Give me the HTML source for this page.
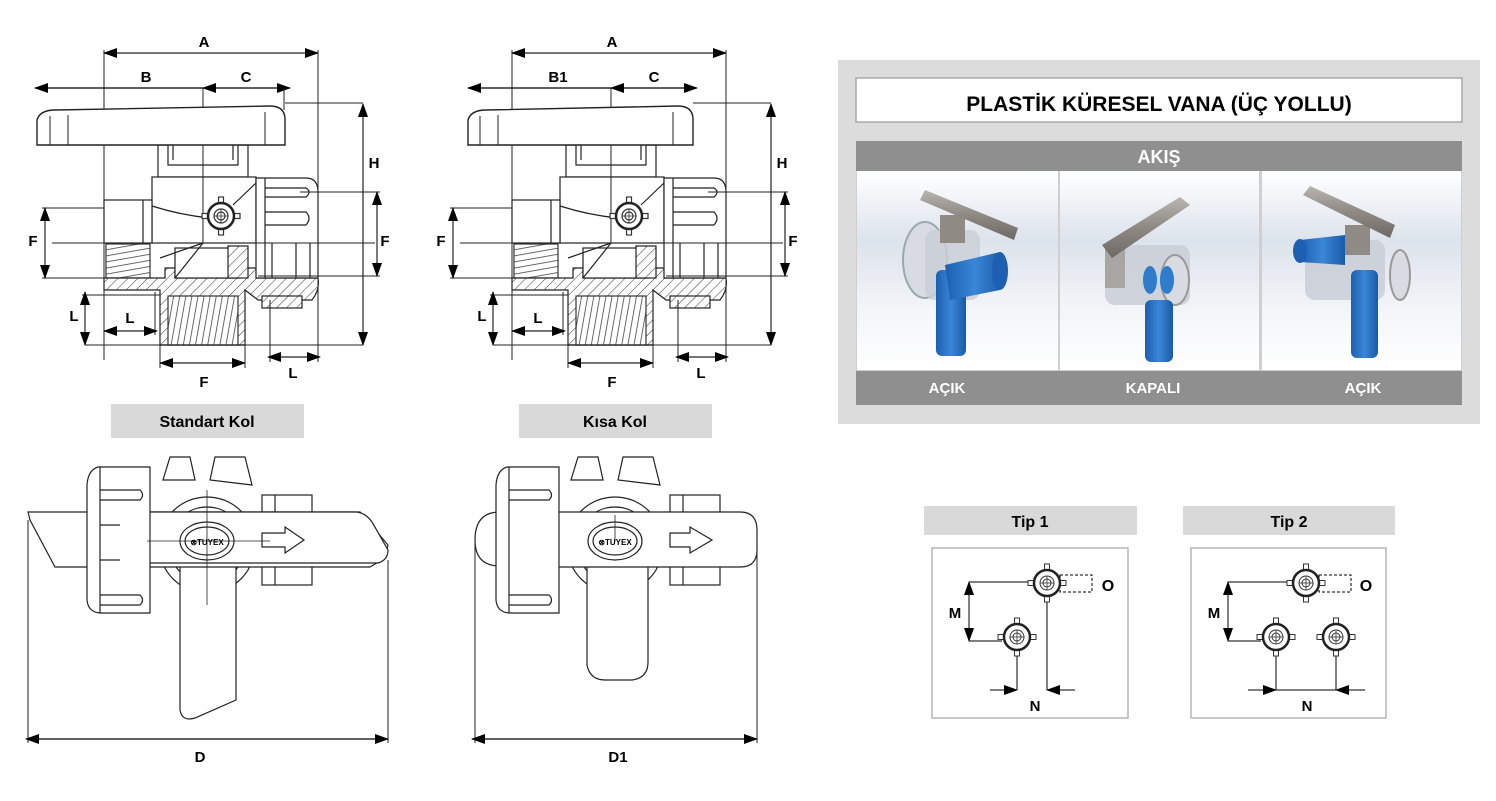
<!DOCTYPE html>
<html><head><meta charset="utf-8"><style>
html,body{margin:0;padding:0;background:#fff;}
svg{display:block;}
text{font-family:"Liberation Sans",Arial,sans-serif;font-weight:bold;}
</style></head><body>
<svg width="1496" height="801" viewBox="0 0 1496 801" xmlns="http://www.w3.org/2000/svg">
<defs>
<marker id="ae" markerWidth="14" markerHeight="10" refX="13" refY="5" orient="auto" markerUnits="userSpaceOnUse"><path d="M0,0 L14,5 L0,10 Z" fill="#000"/></marker>
<marker id="as" markerWidth="14" markerHeight="10" refX="1" refY="5" orient="auto" markerUnits="userSpaceOnUse"><path d="M14,0 L0,5 L14,10 Z" fill="#000"/></marker>
<pattern id="hatch" width="7" height="7" patternUnits="userSpaceOnUse" patternTransform="rotate(45)"><rect width="7" height="7" fill="#fff"/><line x1="0" y1="0" x2="0" y2="7" stroke="#333" stroke-width="1"/></pattern>
<pattern id="thr" width="6" height="6" patternUnits="userSpaceOnUse" patternTransform="rotate(80)"><rect width="6" height="6" fill="#fff"/><line x1="0" y1="0" x2="0" y2="6" stroke="#444" stroke-width="1.6"/></pattern>
<pattern id="thr2" width="6" height="6" patternUnits="userSpaceOnUse" patternTransform="rotate(10)"><rect width="6" height="6" fill="#fff"/><line x1="0" y1="0" x2="0" y2="6" stroke="#444" stroke-width="1.6"/></pattern>
<linearGradient id="bg" x1="0" y1="0" x2="0" y2="1"><stop offset="0" stop-color="#fff"/><stop offset="0.35" stop-color="#dde3ec"/><stop offset="0.7" stop-color="#f3f5f8"/><stop offset="1" stop-color="#fff"/></linearGradient>
<linearGradient id="met" x1="0" y1="0" x2="0" y2="1"><stop offset="0" stop-color="#b9b5b0"/><stop offset="0.5" stop-color="#8e8983"/><stop offset="1" stop-color="#6d6964"/></linearGradient>
<linearGradient id="blu" x1="0" y1="0" x2="1" y2="0"><stop offset="0" stop-color="#1d5fb0"/><stop offset="0.5" stop-color="#3a86d6"/><stop offset="1" stop-color="#1a5aa8"/></linearGradient>

<g id="knob">
 <rect x="-2.5" y="-19" width="5" height="8" fill="#fff" stroke="#333"/>
 <rect x="-2.5" y="11" width="5" height="8" fill="#fff" stroke="#333"/>
 <rect x="-19" y="-2.5" width="8" height="5" fill="#fff" stroke="#333"/>
 <rect x="11" y="-2.5" width="8" height="5" fill="#fff" stroke="#333"/>
 <circle r="13" fill="#fff" stroke="#222" stroke-width="2.5"/>
 <circle r="7" fill="none" stroke="#333"/>
 <circle r="4" fill="none" stroke="#333"/>
 <line x1="-7" y1="0" x2="7" y2="0" stroke="#333" stroke-width="0.8"/>
 <line x1="0" y1="-7" x2="0" y2="7" stroke="#333" stroke-width="0.8"/>
</g>

<!-- top valve body (without handle & B/C dims) -->
<g id="vbody" fill="none" stroke="#222" stroke-width="1.2">
 <!-- stem & loop -->
 <rect x="158" y="145" width="90" height="32" fill="#fff"/>
 <path d="M168,165 L168,135 Q168,126 178,126 L228,126 Q238,126 238,135 L238,165 Z" fill="#fff"/>
 <path d="M173,160 L173,140 Q173,133 180,133 L226,133 Q233,133 233,140 L233,160" />
 <!-- body -->
 <rect x="152" y="177" width="104" height="66" fill="#fff"/>
 <path d="M152,206 Q180,215 210,218"/>
 <path d="M233,205 L256,183"/>
 <!-- left port -->
 <rect x="104" y="200" width="48" height="43" fill="#fff"/>
 <line x1="143" y1="200" x2="143" y2="243"/>
 <rect x="106" y="244" width="44" height="34" fill="url(#thr)" stroke="#333"/>
 <!-- lower hatched body -->
 <path d="M104,278 L165,278 L165,268 L175,268 L175,278 L240,278 L240,268 L258,268 L258,278 L318,278 Q320,290 312,300 L258,300 L245,290 L245,345 L160,345 L160,290 L104,290 Z" fill="url(#hatch)"/>
 <rect x="175" y="248" width="58" height="30" fill="#fff"/>
 <rect x="168" y="296" width="70" height="49" fill="url(#thr2)" stroke="#333"/>
 <line x1="160" y1="345" x2="245" y2="345"/>
 <rect x="228" y="246" width="20" height="32" fill="url(#hatch)"/>
 <line x1="160" y1="258" x2="203" y2="243"/>
 <line x1="175" y1="278" x2="203" y2="243"/>
 <rect x="262" y="296" width="40" height="12" fill="url(#hatch)"/>
 <!-- right union nut -->
 <path d="M256,178 L306,178 Q318,178 318,192 L318,278 L256,278 Z" fill="#fff"/>
 <line x1="265" y1="178" x2="265" y2="278"/>
 <path d="M265,188 L306,188 Q312,192 306,197 L265,197"/>
 <path d="M265,212 L306,212 Q312,218 306,225 L265,225"/>
 <line x1="296" y1="243" x2="296" y2="278"/>
 <line x1="310" y1="243" x2="310" y2="278"/>
 <line x1="272" y1="243" x2="272" y2="278"/>
 <!-- centerlines -->
 <line x1="203" y1="88" x2="203" y2="243" stroke-width="1"/>
 <line x1="52" y1="243" x2="375" y2="243" stroke-width="1"/>
 <use href="#knob" x="221" y="216"/>
 <!-- dims -->
 <line x1="104" y1="50" x2="104" y2="360" stroke-width="1"/>
 <line x1="318" y1="50" x2="318" y2="362" stroke-width="1"/>
 <line x1="104" y1="53" x2="318" y2="53" marker-start="url(#as)" marker-end="url(#ae)"/>
 <line x1="285" y1="103" x2="363" y2="103" stroke-width="1"/>
 <line x1="363" y1="104" x2="363" y2="345" marker-start="url(#as)" marker-end="url(#ae)"/>
 <line x1="300" y1="192" x2="380" y2="192" stroke-width="1"/>
 <line x1="258" y1="276" x2="380" y2="276" stroke-width="1"/>
 <line x1="377" y1="192" x2="377" y2="276" marker-start="url(#as)" marker-end="url(#ae)"/>
 <line x1="42" y1="208" x2="104" y2="208" stroke-width="1"/>
 <line x1="42" y1="278" x2="104" y2="278" stroke-width="1"/>
 <line x1="45" y1="208" x2="45" y2="278" marker-start="url(#as)" marker-end="url(#ae)"/>
 <line x1="82" y1="295" x2="160" y2="295" stroke-width="1"/>
 <line x1="85" y1="292" x2="85" y2="345" marker-start="url(#as)" marker-end="url(#ae)"/>
 <line x1="85" y1="345" x2="363" y2="345" stroke-width="1"/>
 <line x1="155" y1="292" x2="155" y2="335" stroke-width="1"/>
 <line x1="104" y1="331" x2="157" y2="331" marker-start="url(#as)" marker-end="url(#ae)"/>
 <line x1="160" y1="345" x2="160" y2="368" stroke-width="1"/>
 <line x1="245" y1="345" x2="245" y2="368" stroke-width="1"/>
 <line x1="160" y1="363" x2="245" y2="363" marker-start="url(#as)" marker-end="url(#ae)"/>
 <line x1="270" y1="300" x2="270" y2="362" stroke-width="1"/>
 <line x1="268" y1="357" x2="320" y2="357" marker-start="url(#as)" marker-end="url(#ae)"/>
</g>
</defs>

<!-- ===== Drawing 1 ===== -->
<use href="#vbody"/>
<path d="M37,145 L37,120 Q40,110 55,110 L270,106 Q284,106 285,118 L285,145 Z" fill="#fff" stroke="#222" stroke-width="1.4"/>
<line x1="50" y1="116" x2="50" y2="145" stroke="#222"/>
<line x1="68" y1="115" x2="68" y2="145" stroke="#222"/>
<line x1="265" y1="112" x2="265" y2="145" stroke="#222"/>
<line x1="35" y1="88" x2="290" y2="88" stroke="#000" stroke-width="1.2" marker-start="url(#as)" marker-end="url(#ae)"/>
<line x1="203" y1="88" x2="215" y2="88" stroke="#000" marker-start="url(#as)"/>
<line x1="284" y1="88" x2="284" y2="110" stroke="#222"/>
<text x="204" y="47" font-size="15" text-anchor="middle">A</text>
<text x="146" y="82" font-size="15" text-anchor="middle">B</text>
<text x="246" y="82" font-size="15" text-anchor="middle">C</text>
<text x="374" y="168" font-size="15" text-anchor="middle">H</text>
<text x="385" y="246" font-size="15" text-anchor="middle">F</text>
<text x="33" y="246" font-size="15" text-anchor="middle">F</text>
<text x="74" y="321" font-size="15" text-anchor="middle">L</text>
<text x="130" y="323" font-size="15" text-anchor="middle">L</text>
<text x="204" y="387" font-size="15" text-anchor="middle">F</text>
<text x="293" y="378" font-size="15" text-anchor="middle">L</text>

<!-- ===== Drawing 2 ===== -->
<g transform="translate(408,0)"><use href="#vbody"/></g>
<path d="M468,145 L468,120 Q471,110 486,110 L678,106 Q692,106 693,118 L693,145 Z" fill="#fff" stroke="#222" stroke-width="1.4"/>
<line x1="480" y1="116" x2="480" y2="145" stroke="#222"/>
<line x1="498" y1="115" x2="498" y2="145" stroke="#222"/>
<line x1="673" y1="112" x2="673" y2="145" stroke="#222"/>
<line x1="468" y1="88" x2="697" y2="88" stroke="#000" stroke-width="1.2" marker-start="url(#as)" marker-end="url(#ae)"/>
<line x1="611" y1="88" x2="623" y2="88" stroke="#000" marker-start="url(#as)"/>
<text x="612" y="47" font-size="15" text-anchor="middle">A</text>
<text x="558" y="82" font-size="15" text-anchor="middle">B1</text>
<text x="654" y="82" font-size="15" text-anchor="middle">C</text>
<text x="782" y="168" font-size="15" text-anchor="middle">H</text>
<text x="793" y="246" font-size="15" text-anchor="middle">F</text>
<text x="441" y="246" font-size="15" text-anchor="middle">F</text>
<text x="482" y="321" font-size="15" text-anchor="middle">L</text>
<text x="538" y="323" font-size="15" text-anchor="middle">L</text>
<text x="612" y="387" font-size="15" text-anchor="middle">F</text>
<text x="701" y="378" font-size="15" text-anchor="middle">L</text>

<!-- labels -->
<rect x="111" y="404" width="193" height="34" fill="#d9d9d9"/>
<text x="207" y="427" font-size="16" text-anchor="middle">Standart Kol</text>
<rect x="519" y="404" width="193" height="34" fill="#d9d9d9"/>
<text x="615" y="427" font-size="16" text-anchor="middle">Kısa Kol</text>

<!-- ===== Bottom drawing 1 ===== -->
<g fill="#fff" stroke="#222" stroke-width="1.2">
 <path d="M163,480 L170,457 L190,457 L195,480 Z"/>
 <path d="M210,480 L215,457 L245,457 L252,485 Z"/>
 <rect x="262" y="495" width="50" height="90"/>
 <line x1="275" y1="495" x2="275" y2="585"/>
 <circle cx="207" cy="545" r="48"/>
 <circle cx="207" cy="545" r="38"/>
 <path d="M180,565 L180,710 Q182,722 195,718 L236,700 L236,565 Z"/>
 <path d="M28,512 L30,520 L55,567 L370,567 L385,558 L388,545 L360,512 Z"/>
 <path d="M140,512 L355,512 Q365,512 372,522 L388,550 Q388,560 378,563 L140,563 Q120,560 120,537 Q120,512 140,512 Z"/>
 <path d="M98,467 Q88,470 87,485 L87,600 Q88,612 100,613 L150,613 L150,467 Z"/>
 <line x1="100" y1="467" x2="100" y2="613"/>
 <path d="M100,490 L140,490 Q145,495 140,500 L100,500" fill="none"/>
 <path d="M100,525 L120,525" fill="none"/>
 <path d="M100,560 L120,560" fill="none"/>
 <path d="M100,595 L140,595 Q145,600 140,605 L100,605" fill="none"/>
 <ellipse cx="207" cy="541" rx="27" ry="19"/>
 <ellipse cx="207" cy="541" rx="22" ry="14"/>
 <path d="M262,533 L285,533 L285,527 L304,540 L285,553 L285,547 L262,547 Z"/>
 <line x1="147" y1="541" x2="270" y2="541" stroke-width="0.8"/>
 <line x1="207" y1="490" x2="207" y2="605" stroke-width="0.8"/>
</g>
<text x="207" y="545" font-size="8" text-anchor="middle">⊗TUYEX</text>
<line x1="28" y1="520" x2="28" y2="743" stroke="#222"/>
<line x1="388" y1="560" x2="388" y2="743" stroke="#222"/>
<line x1="26" y1="739" x2="388" y2="739" stroke="#000" stroke-width="1.2" marker-start="url(#as)" marker-end="url(#ae)"/>
<text x="200" y="762" font-size="15" text-anchor="middle">D</text>

<!-- ===== Bottom drawing 2 ===== -->
<g fill="#fff" stroke="#222" stroke-width="1.2">
 <path d="M571,480 L578,457 L598,457 L603,480 Z"/>
 <path d="M618,480 L623,457 L653,457 L660,485 Z"/>
 <rect x="670" y="495" width="50" height="90"/>
 <line x1="683" y1="495" x2="683" y2="585"/>
 <circle cx="615" cy="545" r="48"/>
 <circle cx="615" cy="545" r="38"/>
 <path d="M587,565 L587,665 Q590,680 605,680 L632,680 Q648,678 648,662 L648,565 Z"/>
 <path d="M500,512 Q475,512 475,540 Q475,566 500,566 L540,566 L540,512 Z"/>
 <path d="M548,512 L740,512 Q757,512 757,530 L757,550 Q757,567 740,567 L548,567 Q530,565 530,540 Q530,512 548,512 Z"/>
 <path d="M507,467 Q497,470 496,485 L496,600 Q497,612 509,613 L559,613 L559,467 Z"/>
 <line x1="509" y1="467" x2="509" y2="613"/>
 <path d="M509,490 L549,490 Q554,495 549,500 L509,500" fill="none"/>
 <path d="M509,595 L549,595 Q554,600 549,605 L509,605" fill="none"/>
 <ellipse cx="615" cy="541" rx="27" ry="19"/>
 <ellipse cx="615" cy="541" rx="22" ry="14"/>
 <path d="M670,533 L690,533 L690,527 L712,540 L690,553 L690,547 L670,547 Z"/>
 <line x1="615" y1="515" x2="615" y2="541" stroke-width="0.8"/>
</g>
<text x="615" y="545" font-size="8" text-anchor="middle">⊗TUYEX</text>
<line x1="475" y1="540" x2="475" y2="743" stroke="#222"/>
<line x1="757" y1="540" x2="757" y2="743" stroke="#222"/>
<line x1="472" y1="739" x2="757" y2="739" stroke="#000" stroke-width="1.2" marker-start="url(#as)" marker-end="url(#ae)"/>
<text x="618" y="762" font-size="15" text-anchor="middle">D1</text>

<!-- ===== Right panel ===== -->
<rect x="838" y="60" width="642" height="364" fill="#dcdcdc"/>
<rect x="856" y="78" width="606" height="44" fill="#fff" stroke="#a8a8a8" stroke-width="1.5"/>
<text x="1159" y="111" font-size="21" text-anchor="middle">PLASTİK KÜRESEL VANA (ÜÇ YOLLU)</text>
<rect x="856" y="141" width="606" height="30" fill="#8f8f8f"/>
<text x="1159" y="163" font-size="18" fill="#fff" text-anchor="middle">AKIŞ</text>
<rect x="856" y="171" width="606" height="200" fill="#cfcfcf"/>
<rect x="857" y="171" width="201" height="199" fill="url(#bg)"/>
<rect x="1060" y="171" width="199" height="199" fill="url(#bg)"/>
<rect x="1262" y="171" width="199" height="199" fill="url(#bg)"/>
<rect x="856" y="371" width="606" height="34" fill="#8f8f8f"/>
<text x="947" y="393" font-size="15" fill="#fff" text-anchor="middle">AÇIK</text>
<text x="1153" y="393" font-size="15" fill="#fff" text-anchor="middle">KAPALI</text>
<text x="1363" y="393" font-size="15" fill="#fff" text-anchor="middle">AÇIK</text>

<!-- photo 1 -->
<g>
 <ellipse cx="925" cy="260" rx="22" ry="38" fill="#d8dce2" stroke="#9aa" stroke-width="2"/>
 <rect x="925" y="230" width="55" height="70" rx="10" fill="#c9ced6" opacity="0.8"/>
 <rect x="936" y="270" width="30" height="86" rx="6" fill="url(#blu)"/>
 <path d="M945,265 L1000,252 Q1008,265 1000,290 L950,300 Z" fill="url(#blu)"/>
 <ellipse cx="1000" cy="271" rx="8" ry="19" fill="#1d5fb0"/>
 <rect x="940" y="215" width="25" height="28" fill="#8f8a84"/>
 <path d="M920,200 L925,190 L1018,228 L1014,240 Z" fill="url(#met)"/>
</g>
<!-- photo 2 -->
<g>
 <rect x="1105" y="245" width="85" height="60" rx="10" fill="#c9ced6" opacity="0.85"/>
 <ellipse cx="1175" cy="280" rx="14" ry="25" fill="#d8dce2" stroke="#999" stroke-width="2"/>
 <rect x="1105" y="248" width="20" height="40" fill="#a9a5a0"/>
 <rect x="1145" y="300" width="28" height="62" rx="6" fill="url(#blu)"/>
 <ellipse cx="1150" cy="280" rx="7" ry="14" fill="#2f7ccc"/>
 <ellipse cx="1167" cy="280" rx="7" ry="14" fill="#2f7ccc"/>
 <path d="M1102,245 L1180,197 L1190,205 L1112,258 Z" fill="url(#met)"/>
</g>
<!-- photo 3 -->
<g>
 <rect x="1305" y="240" width="80" height="60" rx="10" fill="#c9ced6" opacity="0.85"/>
 <ellipse cx="1400" cy="275" rx="10" ry="25" fill="#d8dce2" stroke="#999" stroke-width="2"/>
 <path d="M1300,240 L1345,235 L1345,265 L1300,262 Z" fill="url(#blu)"/>
 <ellipse cx="1300" cy="251" rx="7" ry="12" fill="#1d5fb0"/>
 <rect x="1351" y="270" width="27" height="88" rx="6" fill="url(#blu)"/>
 <rect x="1345" y="225" width="25" height="30" fill="#8f8a84"/>
 <path d="M1303,195 L1310,186 L1395,225 L1390,238 Z" fill="url(#met)"/>
</g>

<!-- ===== Tip boxes ===== -->
<rect x="924" y="506" width="213" height="29" fill="#d9d9d9"/>
<text x="1030" y="527" font-size="16" text-anchor="middle">Tip 1</text>
<rect x="1183" y="506" width="212" height="29" fill="#d9d9d9"/>
<text x="1289" y="527" font-size="16" text-anchor="middle">Tip 2</text>
<rect x="932" y="548" width="196" height="170" fill="#fff" stroke="#b5b5b5" stroke-width="1.5"/>
<rect x="1191" y="548" width="195" height="170" fill="#fff" stroke="#b5b5b5" stroke-width="1.5"/>

<g stroke="#000" stroke-width="1" fill="none">
 <rect x="1060" y="575" width="32" height="17" stroke-dasharray="3,2"/>
 <line x1="969" y1="582" x2="1032" y2="582"/>
 <line x1="969" y1="641" x2="1002" y2="641"/>
 <line x1="969" y1="582" x2="969" y2="641" marker-start="url(#as)" marker-end="url(#ae)"/>
 <line x1="1017" y1="650" x2="1017" y2="690"/>
 <line x1="1047" y1="596" x2="1047" y2="690"/>
 <line x1="990" y1="690" x2="1017" y2="690" marker-end="url(#ae)"/>
 <line x1="1075" y1="690" x2="1047" y2="690" marker-end="url(#ae)"/>

 <rect x="1319" y="575" width="32" height="17" stroke-dasharray="3,2"/>
 <line x1="1228" y1="582" x2="1291" y2="582"/>
 <line x1="1228" y1="641" x2="1261" y2="641"/>
 <line x1="1228" y1="582" x2="1228" y2="641" marker-start="url(#as)" marker-end="url(#ae)"/>
 <line x1="1276" y1="650" x2="1276" y2="690"/>
 <line x1="1336" y1="650" x2="1336" y2="690"/>
 <line x1="1248" y1="690" x2="1276" y2="690" marker-end="url(#ae)"/>
 <line x1="1365" y1="690" x2="1336" y2="690" marker-end="url(#ae)"/>
 <line x1="1276" y1="690" x2="1336" y2="690"/>
</g>
<use href="#knob" x="1047" y="583"/>
<use href="#knob" x="1017" y="637"/>
<use href="#knob" x="1306" y="583"/>
<use href="#knob" x="1276" y="637"/>
<use href="#knob" x="1336" y="637"/>
<text x="955" y="618" font-size="15" text-anchor="middle">M</text>
<text x="1035" y="711" font-size="15" text-anchor="middle">N</text>
<text x="1108" y="591" font-size="16" text-anchor="middle">O</text>
<text x="1214" y="618" font-size="15" text-anchor="middle">M</text>
<text x="1307" y="711" font-size="15" text-anchor="middle">N</text>
<text x="1366" y="591" font-size="16" text-anchor="middle">O</text>
</svg>
</body></html>
